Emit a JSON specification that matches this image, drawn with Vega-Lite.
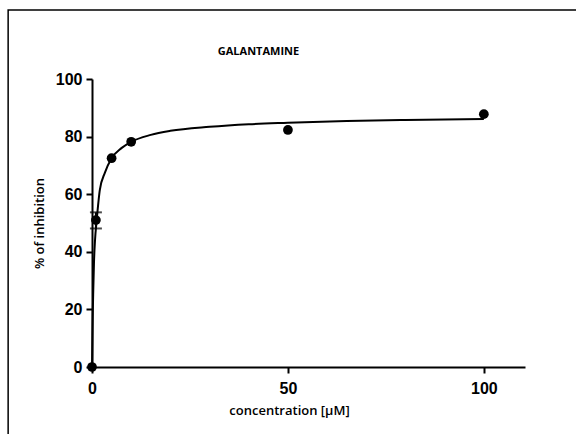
{
  "$schema": "https://vega.github.io/schema/vega-lite/v6.json",
  "autosize": {"type": "none"},
  "width": 433,
  "height": 288,
  "padding": {"left": 92, "top": 79, "right": 51, "bottom": 67},
  "background": "white",
  "datasets": {
    "points": [
      {"conc": 0, "inh": 0},
      {"conc": 1, "inh": 51.0, "lo": 48.1, "hi": 53.7},
      {"conc": 5, "inh": 72.5},
      {"conc": 10, "inh": 78.2},
      {"conc": 50, "inh": 82.3},
      {"conc": 100, "inh": 87.8}
    ],
    "curve": [
      {"conc": 0, "inh": 0},
      {"conc": 0.1, "inh": 10},
      {"conc": 0.2, "inh": 19},
      {"conc": 0.33, "inh": 27},
      {"conc": 0.5, "inh": 36},
      {"conc": 0.77, "inh": 44},
      {"conc": 1.2, "inh": 51},
      {"conc": 2, "inh": 61.5},
      {"conc": 3.3, "inh": 67.5},
      {"conc": 5, "inh": 72.5},
      {"conc": 7.5, "inh": 76},
      {"conc": 10, "inh": 78.2},
      {"conc": 15, "inh": 80.6},
      {"conc": 20, "inh": 82},
      {"conc": 30, "inh": 83.4},
      {"conc": 40, "inh": 84.3},
      {"conc": 50, "inh": 84.8},
      {"conc": 65, "inh": 85.4},
      {"conc": 80, "inh": 85.8},
      {"conc": 100, "inh": 86.1}
    ],
    "frame": [
      {"x1": -21.4, "x2": 130, "y1": -30, "y2": 124}
    ]
  },
  "layer": [
    {
      "data": {"name": "frame"},
      "mark": {"type": "rect", "fill": null, "stroke": "black", "strokeWidth": 1.5},
      "encoding": {
        "x": {
          "field": "x1", "type": "quantitative",
          "axis": {
            "orient": "top", "title": "GALANTAMINE", "domain": false, "ticks": false, "labels": false,
            "titleFont": "Open Sans", "titleFontSize": 11, "titleFontWeight": "bold",
            "titleX": 166, "titleY": -28, "titleAlign": "center", "titleBaseline": "middle"
          }
        },
        "x2": {"field": "x2"},
        "y": {"field": "y1", "type": "quantitative", "title": "% of inhibition"},
        "y2": {"field": "y2"}
      }
    },
    {
      "data": {"name": "curve"},
      "mark": {"type": "line", "color": "black", "strokeWidth": 2, "interpolate": "monotone"},
      "encoding": {
        "x": {"field": "conc", "type": "quantitative", "axis": null},
        "y": {"field": "inh", "type": "quantitative", "title": "% of inhibition"}
      }
    },
    {
      "data": {"name": "points"},
      "transform": [{"filter": "isValid(datum.lo)"}],
      "mark": {"type": "errorbar", "color": "black", "thickness": 2, "ticks": {"size": 12, "thickness": 2}},
      "encoding": {
        "x": {"field": "conc", "type": "quantitative", "axis": null},
        "y": {"field": "lo", "type": "quantitative", "title": "% of inhibition"},
        "y2": {"field": "hi"}
      }
    },
    {
      "data": {"name": "points"},
      "mark": {"type": "point", "filled": true, "color": "black", "opacity": 1, "size": 95},
      "encoding": {
        "x": {
          "field": "conc", "type": "quantitative",
          "scale": {"domain": [0, 110.5], "nice": false, "zero": false},
          "axis": {"values": [0, 50, 100], "title": "concentration [µM]", "titleX": 197, "orient": "bottom"}
        },
        "y": {
          "field": "inh", "type": "quantitative",
          "scale": {"domain": [0, 100], "nice": false},
          "axis": {"values": [0, 20, 40, 60, 80, 100], "title": "% of inhibition"}
        }
      }
    }
  ],
  "resolve": {"axis": {"x": "independent"}},
  "config": {
    "view": {"stroke": null},
    "axis": {
      "grid": false,
      "domainColor": "black",
      "domainWidth": 2,
      "tickColor": "black",
      "tickWidth": 2,
      "tickSize": 6,
      "labelFont": "Liberation Sans",
      "labelFontWeight": "bold",
      "labelFontSize": 16,
      "labelColor": "black",
      "labelFlush": false,
      "labelOverlap": false,
      "titleFont": "Open Sans",
      "titleFontSize": 13,
      "titleFontWeight": 600,
      "titleColor": "black"
    },
    "axisX": {"labelPadding": 7, "titlePadding": 8},
    "axisY": {"labelPadding": 4, "titlePadding": 9}
  }
}
